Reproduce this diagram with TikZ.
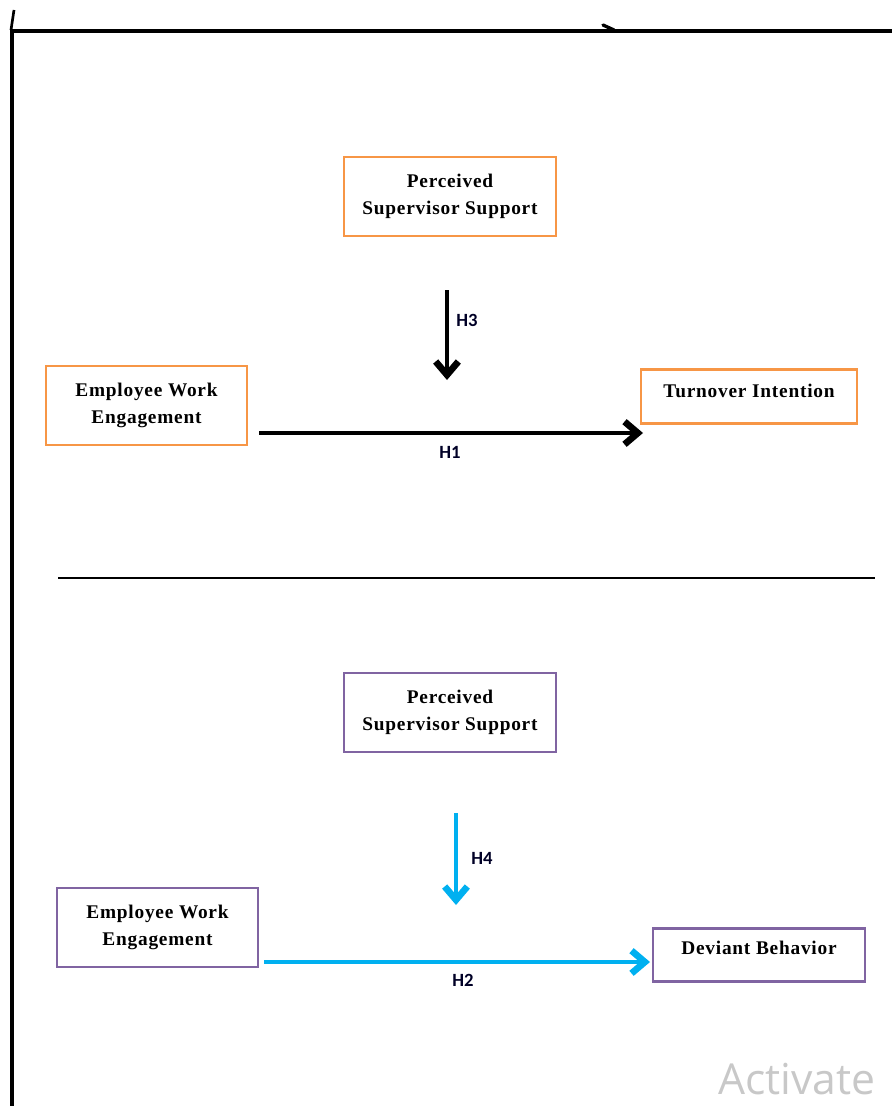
\documentclass[tikz,border=0pt]{standalone}
\usepackage{fontspec}
\setmainfont{Liberation Serif}[LetterSpace=4]
\newfontfamily\lblfont{Carlito}
\newfontfamily\wmfont{Open Sans}
\usetikzlibrary{arrows.meta}
\definecolor{orng}{HTML}{F79646}
\definecolor{purp}{HTML}{8064A2}
\definecolor{cyn}{HTML}{00B0F0}
\definecolor{wmgray}{HTML}{C8C8C8}
\tikzset{
  boxfont/.style={font=\fontsize{14.5pt}{20pt}\selectfont\bfseries},
  box/.style={draw=#1, line width=1.9pt, inner sep=0pt, align=center, boxfont},
  hlabel/.style={font=\lblfont\fontsize{14pt}{16pt}\selectfont\bfseries, text=black!85!blue, inner sep=0pt},
  harrow/.style={draw=#1, line width=3pt, -{Straight Barb[length=10pt,width=17pt,line width=5pt]}},
  frameline/.style={line width=2.6pt},
}
\begin{document}
\begin{tikzpicture}[x=0.75pt,y=-0.75pt]
\useasboundingbox (0,0) rectangle (892,1106);
% frame
\coordinate (fa) at (12,31);
\coordinate (fb) at (892,31);
\coordinate (fc) at (12,1106);
\draw[frameline] (fc) -- (fa) -- (fb);
\coordinate (ta) at (14,10);
\coordinate (tb) at (11,30);
\draw[line width=2pt] (ta) -- (tb);
\coordinate (tc) at (603,25);
\coordinate (td) at (614,30);
\draw[line width=2.5pt, line cap=round] (tc) -- (td);
% separator
\coordinate (sa) at (58,578);
\coordinate (sb) at (875,578);
\draw[line width=1.6pt] (sa) -- (sb);
% top section
\node[box=orng, minimum width=212*0.75pt, minimum height=79*0.75pt] (pss1) at (450,196.5) {Perceived\\Supervisor Support};
\node[box=orng, minimum width=201*0.75pt, minimum height=79*0.75pt] (ewe1) at (146.5,405.5) {Employee Work\\Engagement};
\node[box=orng, minimum width=216*0.75pt, minimum height=54*0.75pt, anchor=north] (ti) at (749,368) {};
\node[boxfont, inner sep=0pt] (tit) at (749,391) {Turnover Intention};
\coordinate (h3a) at (447,290);
\coordinate (h3b) at (447,380);
\draw[harrow=black] (h3a) -- (h3b);
\node[hlabel] (h3) at (467,320) {H3};
\coordinate (h1a) at (259,433);
\coordinate (h1b) at (643,433);
\draw[harrow=black] (h1a) -- (h1b);
\node[hlabel] (h1) at (450,452) {H1};
% bottom section
\node[box=purp, minimum width=212*0.75pt, minimum height=79*0.75pt] (pss2) at (450,712.5) {Perceived\\Supervisor Support};
\node[box=purp, minimum width=201*0.75pt, minimum height=79*0.75pt] (ewe2) at (157.5,927.5) {Employee Work\\Engagement};
\node[box=purp, minimum width=212*0.75pt, minimum height=53*0.75pt, anchor=north] (db) at (759,927) {};
\node[boxfont, inner sep=0pt] (dbt) at (759,948) {Deviant Behavior};
\coordinate (h4a) at (456,813);
\coordinate (h4b) at (456,905);
\draw[harrow=cyn] (h4a) -- (h4b);
\node[hlabel] (h4) at (482,858) {H4};
\coordinate (h2a) at (264,962);
\coordinate (h2b) at (650,962);
\draw[harrow=cyn] (h2a) -- (h2b);
\node[hlabel] (h2) at (463,980) {H2};
% watermark
\node[font=\wmfont\fontsize{32pt}{36pt}\selectfont, text=wmgray, anchor=base west, inner sep=0pt] (wm) at (718,1094) {Activate};
\end{tikzpicture}
\end{document}
